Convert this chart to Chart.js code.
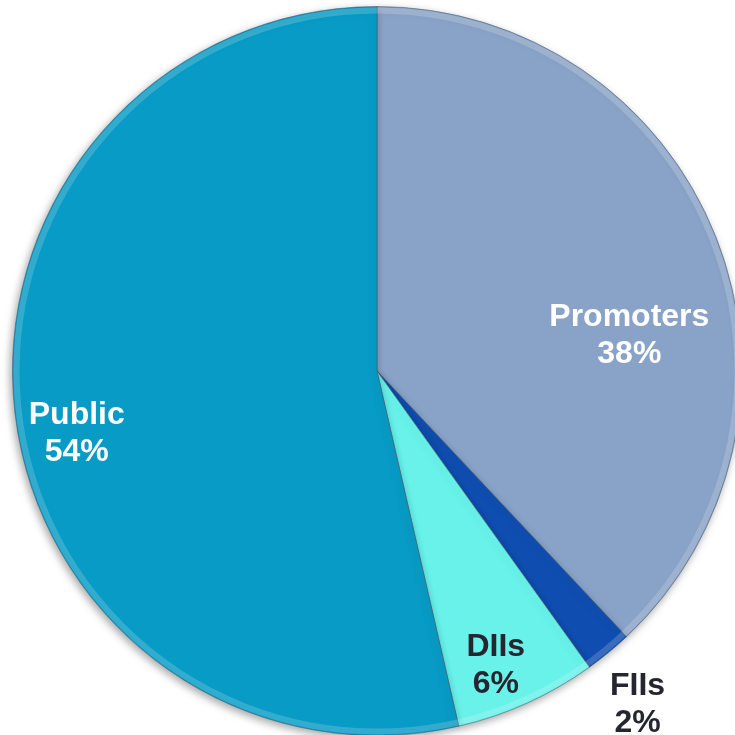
<!DOCTYPE html>
<html>
<head>
<meta charset="utf-8">
<script src="https://cdn.jsdelivr.net/npm/chart.js@4.4.1/dist/chart.umd.min.js"></script>
<style>
  html, body { margin: 0; padding: 0; background: #fff; overflow: hidden; }
  #wrap { position: absolute; left: 0; top: 0; width: 754px; height: 742px; }
</style>
</head>
<body>
<div id="wrap"><canvas id="pie"></canvas></div>
<script>
const categories = ['Promoters', 'FIIs', 'DIIs', 'Public'];
const shares = [38.0, 2.1, 6.3, 53.6];
const sliceColors = ['#89a3c8', '#0f4db0', '#68f2ea', '#079bc5'];

// label placement: angle from top (deg, clockwise), distance as fraction of radius
const labelSpots = [
  { angle: 81.5, dist: 0.70, color: '#ffffff' },
  { angle: 141.8, dist: 1.156, color: '#262630' },
  { angle: 157.9, dist: 0.866, color: '#262630' },
  { angle: 258.7, dist: 0.84, color: '#ffffff' }
];

const shadowPlugin = {
  id: 'shadow',
  beforeDatasetsDraw(chart) {
    const ctx = chart.ctx;
    ctx.save();
    ctx.shadowColor = 'rgba(0,0,0,0.35)';
    ctx.shadowBlur = 8;
    ctx.shadowOffsetX = -2;
    ctx.shadowOffsetY = 3;
  },
  afterDatasetsDraw(chart) {
    chart.ctx.restore();
    // soft bevel highlight along the rim
    const arc = chart.getDatasetMeta(0).data[0];
    const ctx = chart.ctx;
    ctx.save();
    ctx.beginPath();
    ctx.arc(arc.x, arc.y, arc.outerRadius - 4, 0, Math.PI * 2);
    ctx.strokeStyle = 'rgba(255,255,255,0.18)';
    ctx.lineWidth = 6;
    ctx.stroke();
    ctx.restore();
  }
};

const labelPlugin = {
  id: 'sliceLabels',
  afterDraw(chart) {
    const ctx = chart.ctx;
    const arcs = chart.getDatasetMeta(0).data;
    ctx.save();
    ctx.font = 'bold 32px "Liberation Sans", Arial, sans-serif';
    ctx.textAlign = 'center';
    ctx.textBaseline = 'middle';
    arcs.forEach((arc, i) => {
      const spot = labelSpots[i];
      const a = spot.angle * Math.PI / 180;
      const r = arc.outerRadius * spot.dist;
      const x = arc.x + Math.sin(a) * r;
      const y = arc.y - Math.cos(a) * r;
      ctx.fillStyle = spot.color;
      ctx.fillText(categories[i], x, y - 16);
      ctx.fillText(Math.round(shares[i]) + '%', x, y + 21);
    });
    ctx.restore();
  }
};

new Chart(document.getElementById('pie'), {
  type: 'pie',
  data: {
    labels: categories,
    datasets: [{
      data: shares,
      backgroundColor: sliceColors,
      borderColor: 'rgba(70,90,110,0.55)',
      borderWidth: 1
    }]
  },
  options: {
    responsive: true,
    maintainAspectRatio: false,
    animation: false,
    layout: { padding: 6 },
    plugins: {
      legend: { display: false },
      tooltip: { enabled: false }
    }
  },
  plugins: [shadowPlugin, labelPlugin]
});
</script>
</body>
</html>
